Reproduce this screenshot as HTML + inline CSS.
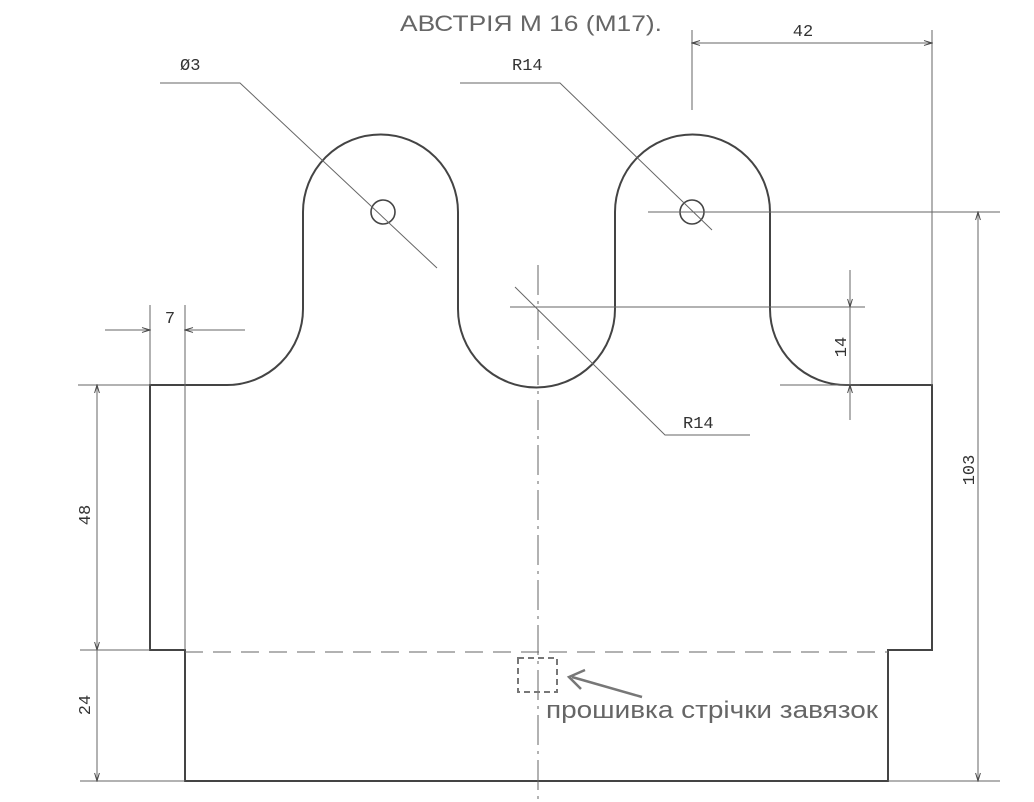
<!DOCTYPE html>
<html><head><meta charset="utf-8"><style>
body{margin:0;background:#fff;width:1034px;height:802px;overflow:hidden}
svg{display:block}
</style></head><body>
<svg width="1034" height="802" viewBox="0 0 1034 802" xmlns="http://www.w3.org/2000/svg">
<defs>
<marker id="a" viewBox="0 0 10 10" refX="10" refY="5" markerWidth="10" markerHeight="8" orient="auto-start-reverse" markerUnits="userSpaceOnUse"><path d="M0,2 L10,5 L0,8" fill="none" stroke="#444" stroke-width="1.2"/></marker>
</defs>
<text x="400" y="31" font-family="Liberation Sans, sans-serif" font-size="22" fill="#666" textLength="262" lengthAdjust="spacingAndGlyphs">АВСТРІЯ М 16 (М17).</text>
<g fill="none" stroke="#444" stroke-width="2">
<path d="M150,385 L227,385 A76,76 0 0 0 303,309 L303,212 A77.5,77.5 0 0 1 458,212 L458,309 A78.5,78.5 0 0 0 615,309 L615,212 A77.5,77.5 0 0 1 770,212 L770,309 A76,76 0 0 0 846,385 L932,385 L932,650 L888,650 L888,781 L185,781 L185,650 L150,650 Z"/>
<circle cx="383" cy="212" r="12" stroke-width="1.6"/>
<circle cx="692" cy="212" r="12" stroke-width="1.6"/>
</g>
<g fill="none" stroke="#666" stroke-width="1">
<line x1="185" y1="385" x2="185" y2="650"/>
<line x1="692" y1="30" x2="692" y2="110"/>
<line x1="932" y1="30" x2="932" y2="385"/>
<line x1="648" y1="212" x2="1000" y2="212"/>
<line x1="888" y1="781" x2="1000" y2="781"/>
<line x1="510" y1="307" x2="865" y2="307"/>
<line x1="780" y1="385" x2="860" y2="385"/>
<line x1="78" y1="385" x2="150" y2="385"/>
<line x1="80" y1="650" x2="150" y2="650"/>
<line x1="80" y1="781" x2="185" y2="781"/>
<line x1="150" y1="305" x2="150" y2="385"/>
<line x1="185" y1="305" x2="185" y2="385"/>
<line x1="538" y1="265" x2="538" y2="800" stroke-dasharray="30,6,3,6"/>
<line x1="185" y1="652" x2="888" y2="652" stroke-dasharray="18,10"/>
<line x1="692" y1="43" x2="932" y2="43" marker-start="url(#a)" marker-end="url(#a)"/>
<line x1="978" y1="212" x2="978" y2="781" marker-start="url(#a)" marker-end="url(#a)"/>
<line x1="850" y1="270" x2="850" y2="307" marker-end="url(#a)"/>
<line x1="850" y1="420" x2="850" y2="385" marker-end="url(#a)"/>
<line x1="850" y1="307" x2="850" y2="385"/>
<line x1="105" y1="330" x2="150" y2="330" marker-end="url(#a)"/>
<line x1="245" y1="330" x2="185" y2="330" marker-end="url(#a)"/>
<line x1="97" y1="385" x2="97" y2="650" marker-start="url(#a)" marker-end="url(#a)"/>
<line x1="97" y1="650" x2="97" y2="781" marker-end="url(#a)"/>
<polyline points="160,83 240,83 437,268"/>
<polyline points="460,83 560,83 712,230"/>
<polyline points="515,287 665,435 750,435"/>
</g>
<g font-family="Liberation Mono, monospace" font-size="17" fill="#333">
<text x="803" y="36" text-anchor="middle">42</text>
<text x="170" y="323" text-anchor="middle">7</text>
<text x="180" y="70">Ø3</text>
<text x="512" y="70">R14</text>
<text x="683" y="428">R14</text>
<text transform="translate(974,470) rotate(-90)" text-anchor="middle">103</text>
<text transform="translate(846,347) rotate(-90)" text-anchor="middle">14</text>
<text transform="translate(90,515) rotate(-90)" text-anchor="middle">48</text>
<text transform="translate(90,705) rotate(-90)" text-anchor="middle">24</text>
</g>
<rect x="518" y="658" width="39" height="34" fill="none" stroke="#777" stroke-width="2" stroke-dasharray="6,4"/>
<line x1="642" y1="697" x2="572" y2="677" stroke="#777" stroke-width="2.5"/>
<polyline points="585,670 569,677 581,689" fill="none" stroke="#777" stroke-width="2.5"/>
<text x="546" y="718" font-family="Liberation Sans, sans-serif" font-size="24" fill="#666" textLength="332" lengthAdjust="spacingAndGlyphs">прошивка стрічки завязок</text>
</svg>
</body></html>
